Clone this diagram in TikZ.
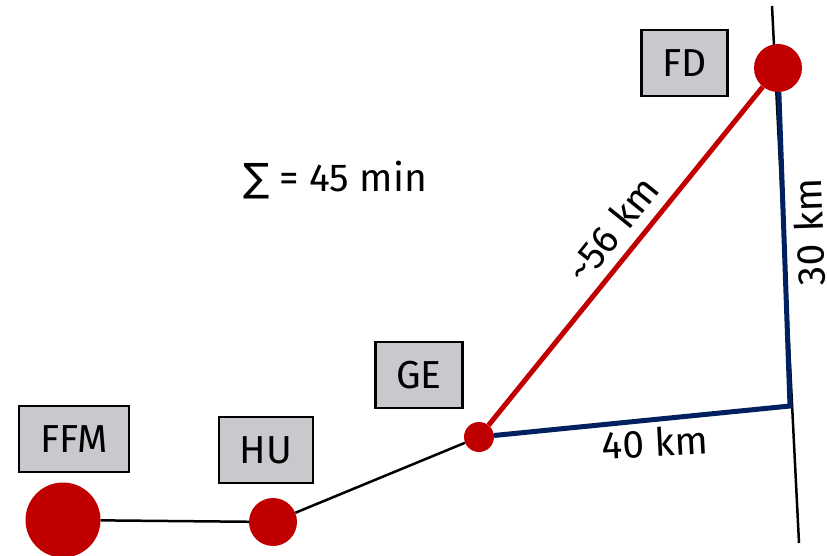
\documentclass[tikz,border=0pt]{standalone}
\usepackage{fontspec}
\setmainfont{Fira Sans}
\newfontfamily\symfont{DejaVu Sans}
\definecolor{stopred}{RGB}{192,0,0}
\definecolor{routeblue}{RGB}{0,32,96}
\definecolor{boxgray}{RGB}{200,200,205}
\tikzset{
  stop/.style={circle, fill=stopred, inner sep=0pt},
  tag/.style={draw, line width=2.5pt, fill=boxgray, minimum height=66pt, inner xsep=21pt, font=\fontsize{39}{42}\selectfont},
  dist/.style={font=\fontsize{39}{42}\selectfont}
}
\begin{document}
\begin{tikzpicture}[x=1pt,y=-1pt]
\useasboundingbox (0,0) rectangle (827,556);
\coordinate (axtop) at (772,6);
\coordinate (axbot) at (799,543);
\coordinate (corner) at (790,406);
\draw[line width=2.5pt] (axtop) -- (axbot);
\node[stop, minimum size=75pt] (ffm) at (63,520) {};
\node[stop, minimum size=48pt] (hu) at (273,522) {};
\node[stop, minimum size=30pt] (ge) at (479,437) {};
\node[stop, minimum size=48pt] (fd) at (778,68) {};
\node[tag] (ffmtag) at (74,439) {FFM};
\node[tag] (hutag) at (266,450) {HU};
\node[tag] (getag) at (419,375) {GE};
\node[tag] (fdtag) at (684.5,63) {FD};
\draw[line width=2.5pt] (ffm) -- (hu);
\draw[line width=2.5pt] (hu) -- (ge);
\draw[stopred, line width=5pt] (ge) -- (fd);
\draw[routeblue, line width=5pt] (ge) -- (corner) -- (fd);
\node[dist, rotate=51] (redkm) at (612,229) {\textasciitilde 56 km};
\node[dist, rotate=92] (vertkm) at (809,232) {30\,\,km};
\node[dist, rotate=3] (horkm) at (655,442) {40 km};
\node[dist] (total) at (335,180) {{\symfont ∑} = 45 min};
\end{tikzpicture}
\end{document}
